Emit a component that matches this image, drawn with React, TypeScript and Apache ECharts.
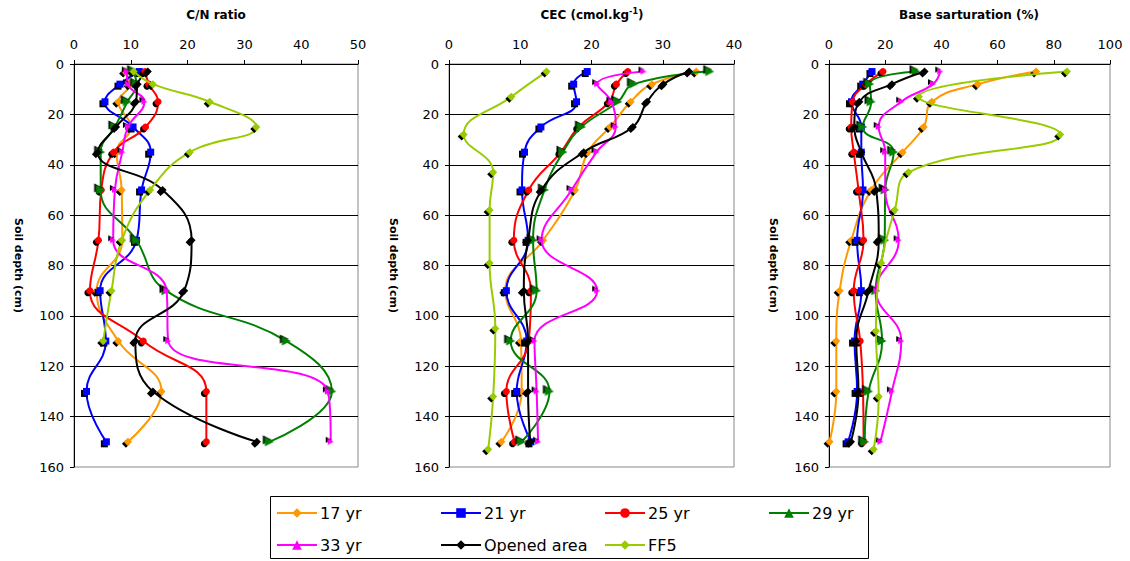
import React, { useEffect, useRef } from "react";
import * as echarts from "echarts";

// ---------- data ----------
const seriesNames = ["17 yr", "21 yr", "25 yr", "29 yr", "33 yr", "Opened area", "FF5"];
const depths = [3, 8, 15, 25, 35, 50, 70, 90, 110, 130, 150];
const ff5DepthsCN = [3, 8, 15, 25, 35, 50, 70, 90, 110];
const ff5DepthsCEC = [3, 13, 28, 43, 58, 79, 105, 132, 153];
const ff5DepthsBS = [3, 13, 28, 43, 58, 79, 106, 132, 153];

// C/N ratio
const cn17 = [9, 9.8, 7.8, 10.0, 7.5, 8.4, 8.5, 4.0, 7.8, 15.4, 9.5];
const cn21 = [11.5, 8.1, 5.45, 10.4, 13.5, 11.9, 11.0, 4.6, 5.6, 2.2, 5.7];
const cn25 = [12.5, 13.2, 14.8, 12.6, 7.0, 4.8, 4.3, 2.8, 12.2, 23.3, 23.3];
const cn29 = [10.5, 11.0, 9.4, 7.2, 4.7, 4.7, 11.0, 16.2, 37.4, 45.4, 34.4];
const cn33 = [9.3, 9.5, 12.4, 9.5, 8.5, 7.2, 6.9, 16.3, 16.6, 44.7, 45.2];
const cnOpen = [13, 11.2, 10.9, 7.4, 4.2, 15.6, 20.7, 19.4, 10.8, 13.9, 32.2];
const cnFF5 = [10.5, 13.9, 23.9, 32.1, 20.4, 13.4, 8.4, 6.6, 5.15];

// CEC (cmol.kg-1)
const cec17 = [34.7, 28.5, 25.5, 22.6, 19.5, 17.7, 13.2, 7.9, 10.1, 10.2, 7.35];
const cec21 = [19.4, 17.5, 17.9, 12.9, 10.6, 10.25, 11.1, 8.05, 10.9, 9.5, 11.5];
const cec25 = [25.1, 23.5, 22.5, 18.2, 15.7, 11.2, 9.1, 11.5, 11.2, 8.05, 9.2];
const cec29 = [36.6, 25.9, 23.7, 18.6, 16.0, 13.4, 11.8, 12.3, 8.66, 14.1, 10.2];
const cec33 = [27.3, 20.8, 22.8, 23.4, 20.7, 17.2, 13.0, 20.8, 12.0, 12.3, 12.5];
const cecOpen = [33.7, 30.1, 27.8, 25.8, 18.9, 13.0, 11.1, 10.5, 11.1, 11.1, 11.4];
const cecFF5 = [13.7, 8.75, 2.06, 6.2, 5.7, 5.7, 6.5, 6.2, 5.5];

// Base saturation (%)
const bs17 = [73.7, 53.0, 36.6, 33.7, 26.2, 15, 7.9, 3.8, 2.6, 2.6, 0.2];
const bs21 = [15.3, 12.0, 8.0, 11.5, 11.5, 12.1, 10.0, 11.5, 9.1, 10.0, 6.8];
const bs25 = [19.2, 13.2, 8.4, 7.9, 8.8, 10.5, 12.3, 8.8, 11.1, 12.1, 12.3];
const bs29 = [31.0, 14.5, 15.0, 12.0, 23.0, 20.0, 19.8, 16.6, 18.9, 14.1, 12.7];
const bs33 = [39.6, 37.0, 25.7, 17.7, 20.0, 20.0, 24.8, 16.8, 25.7, 22.4, 18.3];
const bsOpen = [34.0, 22.4, 10.8, 9.0, 11.5, 16.8, 17.7, 14.1, 9.7, 10.5, 7.8];
const bsFF5 = [84.7, 32, 82.3, 28.3, 23.4, 18.6, 16.7, 17.7, 15.9];

const xMaxes = [50, 40, 100];
const xIntervals = [10, 10, 20];
const depthTicks = { min: 0, max: 160, interval: 20 };

// ---------- styles ----------
const FONT = "'DejaVu Sans', 'Liberation Sans', Arial, sans-serif";
const styles = [
  { color: "#FF9900", symbol: "diamond", size: 8, rotate: 0 },
  { color: "#0000FF", symbol: "rect", size: 7, rotate: 0 },
  { color: "#FF0000", symbol: "circle", size: 7, rotate: 0 },
  { color: "#008000", symbol: "triangle", size: 9, rotate: -90 },
  { color: "#FF00FF", symbol: "triangle", size: 6, rotate: -90 },
  { color: "#000000", symbol: "diamond", size: 8, rotate: 0 },
  { color: "#99CC00", symbol: "diamond", size: 8, rotate: 0 },
];

const grids = [
  { left: 74, top: 64, width: 284, height: 403 },
  { left: 449, top: 64, width: 285, height: 403 },
  { left: 829, top: 64, width: 281, height: 403 },
];

export default function App() {
  const ref = useRef<HTMLDivElement>(null);
  useEffect(() => {
    if (!ref.current) return;
    const chart = echarts.init(ref.current, null, { renderer: "svg" });

    const panels = [
      { vals: [cn17, cn21, cn25, cn29, cn33, cnOpen, cnFF5], ff5D: ff5DepthsCN },
      { vals: [cec17, cec21, cec25, cec29, cec33, cecOpen, cecFF5], ff5D: ff5DepthsCEC },
      { vals: [bs17, bs21, bs25, bs29, bs33, bsOpen, bsFF5], ff5D: ff5DepthsBS },
    ];

    const series: any[] = [];
    panels.forEach((p, gi) => {
      p.vals.forEach((arr, si) => {
        const st = styles[si];
        const dArr = si === 6 ? p.ff5D : depths;
        series.push({
          name: seriesNames[si],
          type: "line",
          xAxisIndex: gi,
          yAxisIndex: gi,
          smooth: 0.45,
          symbol: st.symbol,
          symbolSize: st.size,
          symbolRotate: st.rotate,
          showAllSymbol: true,
          data: arr.map((v, i) => [v, dArr[i]]),
          lineStyle: { color: st.color, width: 2 },
          itemStyle: {
            color: st.color,
            shadowColor: "#000",
            shadowBlur: 0,
            shadowOffsetX: -2,
            shadowOffsetY: 2,
          },
          z: 3 + si,
        });
      });
    });

    const xAxis = grids.map((_, gi) => ({
      gridIndex: gi,
      type: "value",
      position: "top",
      min: 0,
      max: xMaxes[gi],
      interval: xIntervals[gi],
      axisLine: { show: true, lineStyle: { color: "#000", width: 1 } },
      axisTick: { show: true, length: 4, lineStyle: { color: "#000" } },
      axisLabel: { fontSize: 13, color: "#000", fontFamily: FONT, margin: 13 },
      splitLine: { show: false },
    }));

    const yAxis = grids.map((_, gi) => ({
      gridIndex: gi,
      type: "value",
      inverse: true,
      ...depthTicks,
      name: "Soil depth (cm)",
      nameLocation: "middle",
      nameGap: 50,
      nameRotate: -90,
      nameTextStyle: { fontSize: 11, fontWeight: "bold", color: "#000", fontFamily: FONT },
      axisLine: { show: true, lineStyle: { color: "#000", width: 1 } },
      axisTick: { show: true, length: 4, lineStyle: { color: "#000" } },
      axisLabel: { fontSize: 13, color: "#000", fontFamily: FONT, margin: 10 },
      splitLine: { show: true, showMaxLine: false, lineStyle: { color: "#000", width: 1 } },
    }));

    const legendPos = [
      [276, 505], [440, 505], [604, 505], [768, 505],
      [276, 537], [440, 537], [604, 537],
    ];
    const legend = seriesNames.map((n, i) => ({
      data: [n],
      left: legendPos[i][0],
      top: legendPos[i][1],
      padding: 0,
      itemWidth: 40,
      itemHeight: 12,
      symbolRotate: 0,
      selectedMode: false,
      itemStyle: { shadowBlur: 0, shadowOffsetX: 0, shadowOffsetY: 0, shadowColor: "rgba(0,0,0,0)" },
      textStyle: { fontSize: 16, color: "#000", fontFamily: FONT, padding: [0, 0, 0, -2] },
    }));

    const titleStyle = { fontSize: 12, fontWeight: "bold", fill: "#000", fontFamily: FONT };
    const option: any = {
      animation: false,
      backgroundColor: "#fff",
      grid: grids.map((g) => ({
        ...g,
        show: true,
        borderColor: "#888",
        borderWidth: 1,
        backgroundColor: "rgba(0,0,0,0)",
        containLabel: false,
      })),
      xAxis,
      yAxis,
      legend,
      series,
      graphic: [
        {
          type: "text",
          x: 216,
          y: 15,
          style: { ...titleStyle, text: "C/N ratio", textAlign: "center", textVerticalAlign: "middle" },
        },
        {
          type: "text",
          x: 592,
          y: 15,
          style: {
            text: "{a|CEC (cmol.kg}{s|-1}{a|)}",
            textAlign: "center",
            textVerticalAlign: "middle",
            rich: {
              a: { ...titleStyle, lineHeight: 16 },
              s: { fontSize: 8, fontWeight: "bold", fill: "#000", fontFamily: FONT, lineHeight: 8, verticalAlign: "top" },
            },
          },
        },
        {
          type: "text",
          x: 969,
          y: 15,
          style: { ...titleStyle, text: "Base sarturation (%)", textAlign: "center", textVerticalAlign: "middle" },
        },
        {
          type: "rect",
          shape: { x: 270.5, y: 496.5, width: 598, height: 62 },
          style: { fill: "none", stroke: "#000", lineWidth: 1 },
          z: 0,
        },
      ],
    };
    chart.setOption(option);
    return () => chart.dispose();
  }, []);

  return (
    <div
      ref={ref}
      style={{ position: "fixed", left: 0, top: 0, width: 1130, height: 561, background: "#fff" }}
    />
  );
}
